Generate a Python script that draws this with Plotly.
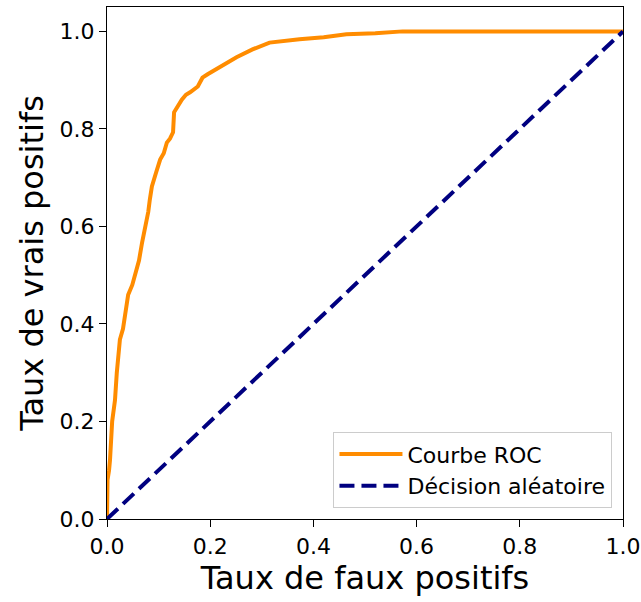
import plotly.graph_objects as go

fpr = [0.0, 0.001, 0.004, 0.0058, 0.010, 0.0155, 0.019, 0.025, 0.031, 0.037, 0.041,
       0.049, 0.056, 0.062, 0.068, 0.075, 0.080, 0.083, 0.087, 0.095, 0.103,
       0.110, 0.116, 0.122, 0.128, 0.130, 0.137, 0.145, 0.153, 0.161, 0.176,
       0.185, 0.195, 0.210, 0.228, 0.251, 0.282, 0.315, 0.373, 0.420, 0.464,
       0.520, 0.573, 0.700, 1.0]
tpr = [0.0, 0.08, 0.10, 0.121, 0.20, 0.244, 0.30, 0.368, 0.39, 0.43, 0.46,
       0.48, 0.505, 0.53, 0.567, 0.60, 0.63, 0.655, 0.682, 0.71, 0.737,
       0.75, 0.772, 0.78, 0.793, 0.834, 0.848, 0.860, 0.870, 0.875, 0.887,
       0.905, 0.912, 0.922, 0.932, 0.947, 0.963, 0.977, 0.984, 0.988, 0.994,
       0.996, 1.0, 1.0, 1.0]
diag = [0.0, 1.0]
tick_vals = [0.0, 0.2, 0.4, 0.6, 0.8, 1.0]
tick_text = ["0.0", "0.2", "0.4", "0.6", "0.8", "1.0"]

fig = go.Figure()
fig.add_trace(go.Scatter(x=fpr, y=tpr, mode="lines", name="Courbe ROC",
                         line=dict(color="#FF8C00", width=4)))
fig.add_trace(go.Scatter(x=diag, y=diag, mode="lines", name="Décision aléatoire",
                         line=dict(color="#000080", width=4, dash="15px,7px")))

axis_common = dict(showgrid=False, zeroline=False, showline=True, linecolor="black",
                   linewidth=1.3, mirror=True, ticks="outside", ticklen=7,
                   tickwidth=1.3, tickcolor="black", tickvals=tick_vals,
                   ticktext=tick_text, tickfont=dict(size=22, color="black"),
                   automargin=False)

fig.update_layout(
    width=641, height=602,
    margin=dict(l=107, r=18, t=7, b=83),
    paper_bgcolor="white", plot_bgcolor="white",
    font=dict(family="DejaVu Sans", color="black"),
    xaxis=dict(range=[0, 1], title=dict(text="Taux de faux positifs",
               font=dict(size=32), standoff=4), **axis_common),
    yaxis=dict(range=[0, 1.05], title=dict(text="Taux de vrais positifs",
               font=dict(size=32), standoff=6), **axis_common),
    legend=dict(x=0.979, y=0.0215, xanchor="right", yanchor="bottom",
                bgcolor="rgba(255,255,255,0.85)", bordercolor="#cccccc",
                borderwidth=1.3, font=dict(size=22), itemwidth=63,
                tracegroupgap=4),
    showlegend=True,
)

fig.write_html("out.html")
